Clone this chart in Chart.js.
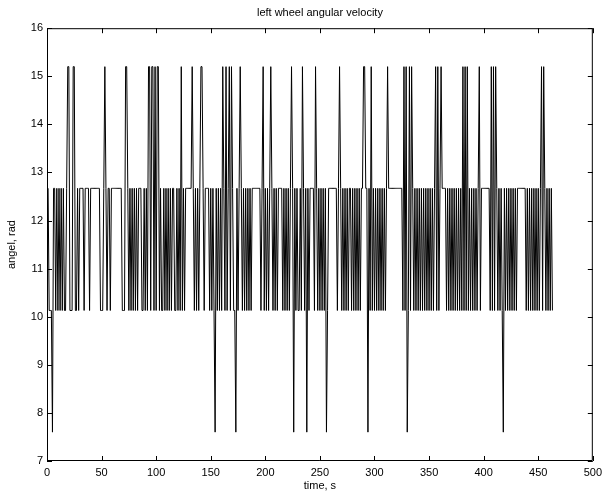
<!DOCTYPE html>
<html>
<head>
<meta charset="utf-8">
<title>left wheel angular velocity</title>
<script src="https://cdn.jsdelivr.net/npm/chart.js@4/dist/chart.umd.min.js"></script>
<style>
  html, body { margin: 0; padding: 0; background: #fff; }
  #wrap { width: 607px; height: 493px; }
</style>
</head>
<body>
<div id="wrap"><canvas id="velocityChart" width="607" height="493"></canvas></div>
<script>
// velocity levels (rad)
const baseLevel = 12.67;
const lowLevel = 10.13;
const highLevel = 15.2;
const dropLevel = 7.6;
const lastSample = 463; // one sample per second

// seconds where the wheel drops to the low level
const lowTimes = [
    2, 3, 4, 8, 10, 12, 14, 16, 17, 21, 22, 23, 26, 27, 29, 34, 39,
    49, 50, 51, 55, 58,
    69, 70, 71, 75, 77, 79, 81, 83, 87, 88, 90, 92, 95, 98, 100, 103, 105, 106,
    108, 110, 112, 114, 117, 118, 120, 122, 124, 126,
    135, 137, 139, 144, 149, 151, 153, 156, 158, 160, 163, 165,
    168, 171, 172, 175, 179, 181, 183, 185, 187,
    196, 199, 201, 203, 207, 209, 211,
    216, 218, 220, 222, 228, 230, 231, 233, 236, 240,
    245, 248, 250, 252, 254, 257,
    266, 270, 272, 274, 276, 279, 281, 283, 285, 287,
    296, 298, 300, 302, 304, 306, 308, 310,
    326, 328, 331, 333,
    336, 338, 340, 342, 344, 346, 348, 350, 352, 354, 357, 359,
    366, 368, 370, 372, 374, 376, 378, 380, 382, 384, 386, 388, 390, 392, 394, 397,
    406, 408, 410, 413, 415, 417, 420, 422, 424, 426, 428, 430,
    439, 441, 443, 445, 447, 449, 451, 454, 457, 459, 461, 463
];

// seconds with a spike to the high level
const highTimes = [
    19, 20, 24, 25, 53, 72, 73, 93, 94, 96, 97, 99, 101, 102, 123, 133, 141, 142,
    161, 164, 167, 169, 177, 198, 205, 224, 234, 246, 268, 290, 291, 297, 312,
    327, 329, 332, 334, 356, 358, 361, 381, 383, 385, 396, 407, 409, 411, 453, 455
];

// seconds where it falls to the lowest level
const dropTimes = [5, 154, 173, 226, 238, 256, 294, 330, 418];

const xTicks = [0, 50, 100, 150, 200, 250, 300, 350, 400, 450, 500];
const yTicks = [7, 8, 9, 10, 11, 12, 13, 14, 15, 16];

var samples = [];
for (let t = 0; t <= lastSample; t++) {
    let v = baseLevel;
    if (lowTimes.includes(t)) v = lowLevel;
    if (highTimes.includes(t)) v = highLevel;
    if (dropTimes.includes(t)) v = dropLevel;
    samples.push({ x: t, y: v });
}

const axisFont = { family: 'Liberation Sans, Arial, sans-serif', size: 11 };

// box round the plot with inward ticks on all four sides
const frameTicks = {
    id: 'frameTicks',
    afterDatasetsDraw(chart) {
        const ctx = chart.ctx;
        const a = chart.chartArea;
        const xs = chart.scales.x;
        const ys = chart.scales.y;
        ctx.save();
        ctx.strokeStyle = '#000';
        ctx.lineWidth = 1;
        ctx.beginPath();
        ctx.rect(a.left + 0.5, a.top + 0.5, a.right - a.left - 1, a.bottom - a.top - 1);
        xTicks.forEach(v => {
            const px = Math.round(xs.getPixelForValue(v)) + 0.5;
            ctx.moveTo(px, a.bottom);
            ctx.lineTo(px, a.bottom - 5);
            ctx.moveTo(px, a.top);
            ctx.lineTo(px, a.top + 5);
        });
        yTicks.forEach(v => {
            const py = Math.round(ys.getPixelForValue(v)) + 0.5;
            ctx.moveTo(a.left, py);
            ctx.lineTo(a.left + 5, py);
            ctx.moveTo(a.right, py);
            ctx.lineTo(a.right - 5, py);
        });
        ctx.stroke();
        ctx.restore();
    }
};

var ctx = document.getElementById('velocityChart').getContext('2d');
var velocityChart = new Chart(ctx, {
    type: 'line',
    data: {
        datasets: [{
            label: 'left wheel',
            data: samples,
            borderColor: '#000',
            borderWidth: 1,
            pointRadius: 0,
            tension: 0,
            fill: false
        }]
    },
    options: {
        responsive: false,
        animation: false,
        devicePixelRatio: 1,
        layout: {
            padding: { left: 0, right: 11, top: 0, bottom: 0 }
        },
        plugins: {
            legend: { display: false },
            tooltip: { enabled: false },
            title: {
                display: true,
                text: 'left wheel angular velocity',
                color: '#000',
                fullSize: false,
                font: { family: axisFont.family, size: 11, weight: 'normal' },
                padding: { top: 6, bottom: 9 }
            }
        },
        scales: {
            x: {
                type: 'linear',
                min: 0,
                max: 500,
                grid: { display: false, drawTicks: false },
                border: { display: false },
                ticks: {
                    stepSize: 50,
                    autoSkip: false,
                    maxRotation: 0,
                    padding: 5,
                    color: '#000',
                    font: axisFont
                },
                title: {
                    display: true,
                    text: 'time, s',
                    color: '#000',
                    font: axisFont,
                    padding: { top: 0, bottom: 0 }
                },
                afterFit: function(scale) { scale.height = 32; }
            },
            y: {
                min: 7,
                max: 16,
                grid: { display: false, drawTicks: false },
                border: { display: false },
                ticks: {
                    stepSize: 1,
                    padding: 4,
                    color: '#000',
                    font: axisFont
                },
                title: {
                    display: true,
                    text: 'angel, rad',
                    color: '#000',
                    font: axisFont,
                    padding: { top: 5, bottom: 0 }
                },
                afterFit: function(scale) { scale.width = 47; }
            }
        }
    },
    plugins: [frameTicks]
});
</script>
</body>
</html>
